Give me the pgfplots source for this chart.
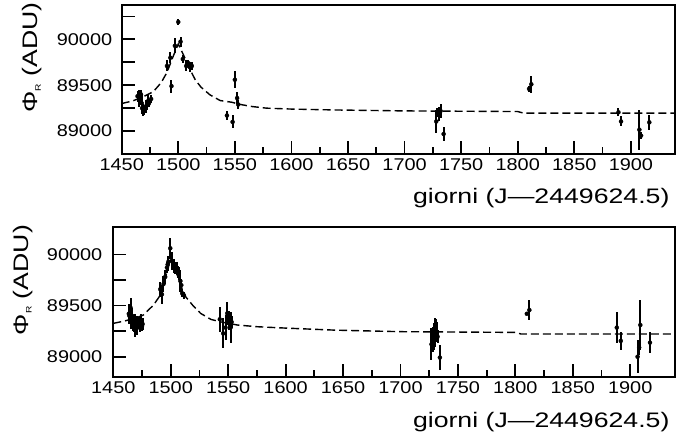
\documentclass[border=0pt]{standalone}
\usepackage{pgfplots}
\pgfplotsset{compat=1.18}
\usepackage{fontspec}
\setmainfont{Liberation Sans}
\newfontfamily\tickfont[FakeStretch=1.17]{Liberation Sans}
\newfontfamily\labelfont[FakeStretch=1.27]{Liberation Sans}

\pgfplotstableread{
d v e
1464 89380 60
1465.5 89358 90
1466 89330 50
1467 89400 45
1467.7 89304 90
1468 89250 60
1469 89230 70
1470 89220 50
1471.5 89268 70
1472 89280 50
1473.5 89330 65
1474 89300 40
1476 89350 40
1490 89710 60
1493 89800 60
1494 89490 70
1497 89930 80
1500 90190 35
1502 89975 55
1504 89785 45
1507 89710 60
1509 89740 40
1510 89700 55
1512 89710 40
1543 89170 45
1548 89100 70
1550 89560 90
1552 89360 70
1553 89290 50
1728 89105 130
1729 89200 50
1730.3 89185 80
1731.8 89220 80
1734.5 88968 80
1810 89460 30
1812 89510 90
1889 89205 45
1891.3 89105 55
1907.5 89015 218
1909 88950 40
1916.3 89095 80
}\topdata

\pgfplotstableread{
d v
1450 89300
1460 89330
1470 89380
1478 89430
1485 89530
1490 89640
1495 89800
1500 89950
1505 89820
1510 89680
1515 89560
1520 89480
1528 89395
1537 89333
1547 89315
1555 89290
1565 89268
1578 89250
1600 89240
1640 89230
1700 89220
1800 89213
1805 89196
1939 89195
}\topmodel

\pgfplotstableread{
d v e
1463.5 89420 100
1464 89400 80
1465 89480 90
1465.5 89380 110
1466 89350 60
1466.5 89400 80
1467 89320 70
1468 89300 60
1468.5 89330 90
1469 89260 65
1470 89300 50
1470.5 89280 70
1471 89350 50
1472 89330 60
1473 89310 70
1474 89340 80
1475 89300 50
1475.5 89320 60
1490.9 89660 75
1492.3 89610 90
1493.7 89710 75
1495.2 89780 65
1496.7 89870 55
1497.3 89900 60
1498 89930 50
1499.6 90060 100
1501 89935 90
1503 89890 70
1504 89870 60
1505.5 89860 65
1506.3 89830 60
1507 89815 65
1508.4 89740 105
1509.2 89700 60
1510 89620 40
1511.5 89600 35
1542.7 89366 122
1545.7 89228 146
1547.7 89285 122
1549.2 89424 113
1550.6 89355 95
1552.1 89285 155
1553 89340 60
1727 89122 155
1728.6 89171 122
1729.3 89200 130
1730 89237 138
1730.7 89260 110
1731.5 89245 98
1732.3 89196 65
1734.3 88992 122
1810 89420 15
1812.2 89456 98
1888.3 89285 155
1891.8 89155 90
1906.4 89000 163
1907.8 89090 73
1908.8 89310 245
1917.2 89138 105
}\botdata

\pgfplotstableread{
d v
1450 89326
1460 89350
1470 89380
1476 89407
1485 89505
1491 89603
1496 89800
1500 89960
1505 89820
1509 89690
1513 89586
1519 89505
1526 89424
1535 89365
1543 89342
1558 89310
1576 89293
1600 89280
1643 89260
1700 89245
1800 89238
1805 89222
1940 89222
}\botmodel

\pgfplotsset{
  common/.style={
    scale only axis,
    axis line style={line width=1.8pt},
    every tick/.style={black, line width=1.8pt},
    major tick length=13pt, minor tick length=7pt,
    tick align=inside,
    tick pos=left,
    xmin=1450, xmax=1939,
    xtick={1450,1500,...,1900}, minor x tick num=1,
    xticklabels={1450,1500,1550,1600,1650,1700,1750,1800,1850,1900},
    /pgf/number format/assume math mode=true,
    /pgf/number format/set thousands separator={},
    scaled y ticks=false,
    tick label style={font=\tickfont\fontsize{17}{17}\selectfont},
    xticklabel style={yshift=-1.5pt},
    label style={font=\labelfont\fontsize{21}{21}\selectfont},
    xlabel={giorni (J—2449624.5)},
    ylabel={Φ\raisebox{-0.3ex}{\fontsize{8}{8}\selectfont R} (ADU)},
  },
  model/.style={black, line width=1.4pt, dash pattern=on 8pt off 4pt},
  bars/.style={only marks, mark=none, error bars/.cd, y dir=both, y explicit, error mark=none, error bar style={black, line width=2pt}},
}

\begin{document}
\begin{tikzpicture}
\path[use as bounding box] (0pt,0pt) rectangle (676pt,-444pt);
\begin{axis}[common,
  at={(121.7pt,-154pt)}, anchor=south west,
  width=553.3pt, height=149pt,
  ymin=88750, ymax=90375,
  ytick={89000,89250,89500,89750,90000,90250},
  yticklabels={89000,,89500,,90000,},
  yticklabel style={xshift=-6pt},
  ylabel style={at={(axis description cs:-0.162,0.648)}, anchor=center},
  xlabel style={at={(axis description cs:0.9964,-0.329)}, anchor=base east},
]
\addplot[model] table[x=d,y=v] {\topmodel};
\addplot[bars] table[x=d,y=v,y error=e] {\topdata};
\end{axis}
\begin{axis}[common,
  at={(113.3pt,-376.7pt)}, anchor=south west,
  width=561.7pt, height=149.4pt,
  ymin=88805, ymax=90265,
  ytick={89000,89250,89500,89750,90000},
  yticklabels={89000,,89500,,90000},
  yticklabel style={xshift=-7.5pt},
  ylabel style={at={(axis description cs:-0.161,0.647)}, anchor=center},
  xlabel style={at={(axis description cs:0.9965,-0.343)}, anchor=base east},
]
\addplot[model] table[x=d,y=v] {\botmodel};
\addplot[bars] table[x=d,y=v,y error=e] {\botdata};
\end{axis}
\end{tikzpicture}
\end{document}
